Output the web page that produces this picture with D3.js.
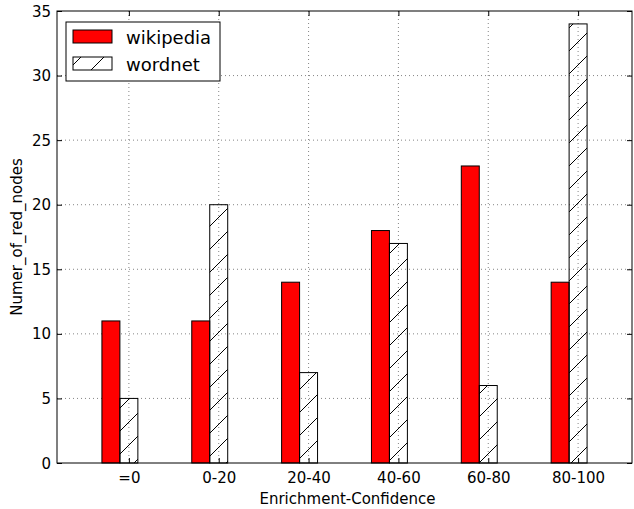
<!DOCTYPE html>
<html>
<head>
<meta charset="utf-8">
<script src="https://cdn.jsdelivr.net/npm/d3@7"></script>
<style>
  body { margin: 0; background: #fff; }
  svg { font-family: "DejaVu Sans", sans-serif; display: block; }
</style>
</head>
<body>
<div id="chart"></div>
<script>
const categories = ["=0", "0-20", "20-40", "40-60", "60-80", "80-100"];
const wikipedia = [11, 11, 14, 18, 23, 14];
const wordnet = [5, 20, 7, 17, 6, 34];
const yTicks = [0, 5, 10, 15, 20, 25, 30, 35];

const width = 634, height = 509;
const margins = { left: 57, right: 2, top: 11, bottom: 46 };
const innerWidth = width - margins.left - margins.right;
const innerHeight = height - margins.top - margins.bottom;

const barW = 0.2;
const x = d3.scaleLinear().domain([-0.5, 5.9]).range([0, innerWidth]);
const y = d3.scaleLinear().domain([0, 35]).range([innerHeight, 0]);

const svg = d3.select("#chart").append("svg")
    .attr("width", width)
    .attr("height", height);

const defs = svg.append("defs");
const hatch = defs.append("pattern")
    .attr("id", "hatch")
    .attr("patternUnits", "userSpaceOnUse")
    .attr("width", 23)
    .attr("height", 23);
hatch.append("path")
    .attr("d", "M-2,25 L25,-2")
    .attr("stroke", "#000")
    .attr("stroke-width", 1);

const g = svg.append("g")
    .attr("transform", `translate(${margins.left},${margins.top})`);

// grid
const tickPos = categories.map((c, i) => i + barW * 1.5);
const grid = g.append("g")
    .attr("stroke", "#000")
    .attr("stroke-width", 0.6)
    .attr("stroke-dasharray", "1,3")
    .attr("opacity", 0.8);
grid.selectAll(".gx").data(tickPos).join("line")
    .attr("x1", d => x(d)).attr("x2", d => x(d))
    .attr("y1", 0).attr("y2", innerHeight);
grid.selectAll(".gy").data(yTicks.slice(1, -1)).join("line")
    .attr("x1", 0).attr("x2", innerWidth)
    .attr("y1", d => y(d)).attr("y2", d => y(d));

// bars
g.selectAll(".wiki").data(wikipedia).join("rect")
    .attr("x", (d, i) => x(i))
    .attr("width", x(barW) - x(0))
    .attr("y", d => y(d))
    .attr("height", d => y(0) - y(d))
    .attr("fill", "#ff0000")
    .attr("stroke", "#000")
    .attr("stroke-width", 1);

g.selectAll(".wn").data(wordnet).join("rect")
    .attr("x", (d, i) => x(i + barW))
    .attr("width", x(barW) - x(0))
    .attr("y", d => y(d))
    .attr("height", d => y(0) - y(d))
    .attr("fill", "url(#hatch)")
    .attr("stroke", "#000")
    .attr("stroke-width", 1);

// spines
g.append("rect")
    .attr("width", innerWidth).attr("height", innerHeight)
    .attr("fill", "none").attr("stroke", "#000").attr("stroke-width", 1);

// axes with inward ticks
const xAxis = d3.axisBottom(x).tickValues(tickPos)
    .tickFormat((d, i) => categories[i])
    .tickSizeInner(-5).tickSizeOuter(0).tickPadding(9);
const xg = g.append("g").attr("transform", `translate(0,${innerHeight})`).call(xAxis);
const xTop = d3.axisTop(x).tickValues(tickPos).tickFormat("").tickSizeInner(-5).tickSizeOuter(0);
const xtg = g.append("g").call(xTop);

const yAxis = d3.axisLeft(y).tickValues(yTicks)
    .tickSizeInner(-5).tickSizeOuter(0).tickPadding(6);
const yg = g.append("g").call(yAxis);
const yRight = d3.axisRight(y).tickValues(yTicks).tickFormat("").tickSizeInner(-5).tickSizeOuter(0);
const yrg = g.append("g").attr("transform", `translate(${innerWidth},0)`).call(yRight);

[xg, xtg, yg, yrg].forEach(a => {
    a.select(".domain").remove();
    a.selectAll("text").attr("font-family", "DejaVu Sans").attr("font-size", 15).attr("fill", "#000");
});
// mirrored axes carry ticks only
xtg.selectAll("text").remove();
yrg.selectAll("text").remove();
yg.selectAll("text").attr("dy", null).attr("dominant-baseline", "central");

// axis labels
svg.append("text")
    .attr("x", margins.left + innerWidth / 2 + 3)
    .attr("y", 504)
    .attr("text-anchor", "middle")
    .attr("font-size", 15)
    .text("Enrichment-Confidence");

svg.append("text")
    .attr("transform", `translate(22,${margins.top + innerHeight / 2}) rotate(-90)`)
    .attr("text-anchor", "middle")
    .attr("font-size", 15)
    .text("Numer_of_red_nodes");

// legend
const legend = svg.append("g");
legend.append("rect")
    .attr("x", 66).attr("y", 22).attr("width", 154).attr("height", 59)
    .attr("fill", "#fff").attr("stroke", "#000").attr("stroke-width", 1);
const items = [
    { name: "wikipedia", fill: "#ff0000" },
    { name: "wordnet", fill: "url(#hatch)" }
];
items.forEach((it, i) => {
    const yy = 30 + i * 27;
    legend.append("rect")
        .attr("x", 73).attr("y", yy).attr("width", 39).attr("height", 13)
        .attr("fill", it.fill).attr("stroke", "#000").attr("stroke-width", 1);
    legend.append("text")
        .attr("x", 126).attr("y", yy + 13.5)
        .attr("font-size", 18)
        .text(it.name);
});
</script>
</body>
</html>
